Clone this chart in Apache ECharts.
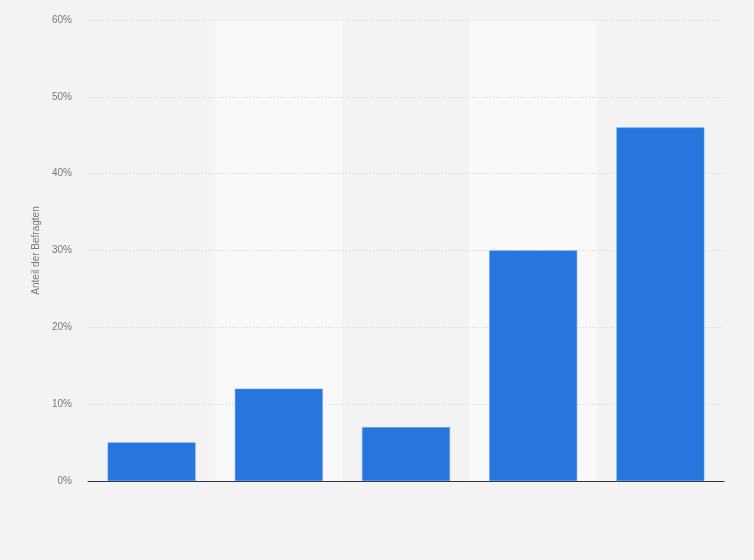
<!DOCTYPE html>
<html>
<head>
<meta charset="utf-8">
<script src="https://cdn.jsdelivr.net/npm/echarts@6/dist/echarts.min.js"></script>
<style>
html,body{margin:0;padding:0;background:#f3f3f3;}
#chart{width:754px;height:560px;}
</style>
</head>
<body>
<div id="chart"></div>
<script>
const categories = ['1', '2', '3', '4', '5'];
const values = [5, 12, 7, 30, 46];
const yTicks = [0, 10, 20, 30, 40, 50, 60];
const yAxisName = 'Anteil der Befragten';

const chart = echarts.init(document.getElementById('chart'));
chart.setOption({
  backgroundColor: '#f3f3f3',
  animation: false,
  grid: { left: 88, right: 30, top: 20, bottom: 79, containLabel: false },
  xAxis: {
    type: 'category',
    data: categories,
    boundaryGap: true,
    z: 0,
    axisLine: { show: true, onZero: false, lineStyle: { color: '#333', width: 1.2 } },
    axisTick: { show: false },
    axisLabel: { show: false },
    splitLine: { show: false },
    splitArea: { show: true, areaStyle: { color: ['rgba(0,0,0,0)', '#f9f9f9'] } }
  },
  yAxis: {
    type: 'value',
    z: 1,
    min: yTicks[0],
    max: yTicks[yTicks.length - 1],
    interval: 10,
    name: yAxisName,
    nameLocation: 'middle',
    nameGap: 44,
    nameTextStyle: { color: '#777', fontSize: 10, fontFamily: 'Liberation Sans, Arial, sans-serif' },
    axisLine: { show: false },
    axisTick: { show: false },
    axisLabel: {
      formatter: '{value}%',
      color: '#777',
      fontSize: 10,
      margin: 16,
      fontFamily: 'Liberation Sans, Arial, sans-serif'
    },
    splitLine: { show: true, showMinLine: false, lineStyle: { color: '#cfcfcf', type: [1, 2], width: 1 } }
  },
  series: [{
    type: 'bar',
    data: values,
    barWidth: '69%',
    z: 3,
    itemStyle: { color: '#2776dd', borderColor: '#4f8fe6', borderWidth: 0.5 }
  }]
});
</script>
</body>
</html>
